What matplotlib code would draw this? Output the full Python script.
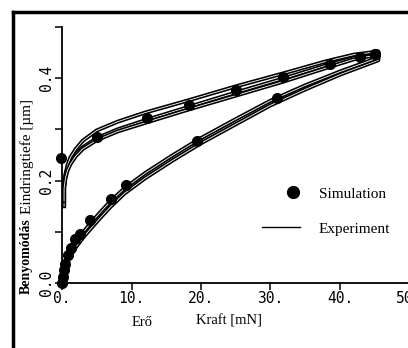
import matplotlib
matplotlib.use("Agg")
from matplotlib import pyplot as plt
from matplotlib.lines import Line2D
from matplotlib.legend_handler import HandlerLine2D
import matplotlib.patheffects as pe

# simulation dots (Kraft in mN, Eindringtiefe in um)
sim_load_x = [0.0, 0.1, 0.25, 0.5, 0.9, 1.3, 1.9, 2.6, 4.0, 7.1, 9.2, 19.4, 31.0, 45.0]
sim_load_y = [0.0, 0.012, 0.025, 0.038, 0.055, 0.068, 0.085, 0.095, 0.124, 0.164, 0.192, 0.277, 0.362, 0.447]
sim_unload_x = [45.0, 42.9, 38.6, 31.8, 25.0, 18.3, 12.2, 5.0, -0.2]
sim_unload_y = [0.447, 0.442, 0.427, 0.403, 0.377, 0.347, 0.323, 0.286, 0.245]

# experiment: three measured loops (load then unload)
exp_x = [0, 0.3, 0.7, 1.2, 2, 3, 4, 5.5, 7, 9, 12, 16, 20, 25, 30, 35, 40, 45.5,
         45.5, 42, 38, 32, 25, 18, 12, 8, 5, 3, 2, 1.2, 0.8, 0.5, 0.3, 0.3]
exp_y1 = [0, .025, .042, .057, .075, .093, .11, .133, .155, .18, .21, .245, .278, .315, .352, .382, .41, .437,
          .448, .44, .425, .4, .372, .343, .318, .3, .283, .265, .252, .237, .225, .21, .19, .155]
exp_y2 = [0, .022, .038, .052, .07, .088, .104, .127, .149, .175, .205, .24, .273, .31, .347, .378, .407, .435,
          .452, .446, .433, .41, .384, .356, .333, .315, .298, .278, .262, .245, .23, .212, .19, .15]
exp_y3 = [0, .028, .046, .061, .08, .098, .115, .138, .16, .185, .215, .25, .283, .32, .356, .386, .413, .44,
          .446, .437, .42, .394, .366, .338, .313, .296, .279, .262, .248, .232, .22, .205, .185, .16]

x_ticks = [0, 10, 20, 30, 40, 50]
x_ticklabels = ["0.", "10.", "20.", "30.", "40.", "50."]
y_ticks = [0.0, 0.1, 0.2, 0.3, 0.4, 0.5]
y_ticklabels = ["0.0", "", "0.2", "", "0.4", ""]


class RightMarker(HandlerLine2D):
    # legend dot sits near the right end of the handle, as in the scan
    def get_xdata(self, legend, xdescent, ydescent, width, height, fontsize):
        x = [-xdescent + 0.82 * width]
        return x, x


W, H = 408, 348
fig = plt.figure(figsize=(W / 100, H / 100), dpi=100)
ax = fig.add_axes([62 / W, 65 / H, 51 * 6.95 / W, 256 / H])

outline = [pe.Stroke(linewidth=2.9, foreground="black"), pe.Normal()]
for ys in [exp_y1, exp_y2, exp_y3]:
    ax.plot(exp_x, ys, color="white", lw=0.6, path_effects=outline, clip_on=False)

ax.plot(sim_load_x, sim_load_y, "o", color="black", ms=7, clip_on=False)
ax.plot(sim_unload_x, sim_unload_y, "o", color="black", ms=7, clip_on=False)

ax.set_xlim(0, 51)
ax.set_ylim(0, 0.5)
for s in ["top", "right"]:
    ax.spines[s].set_visible(False)
for s in ["left", "bottom"]:
    ax.spines[s].set_linewidth(1.3)

ax.set_xticks(x_ticks)
ax.set_xticklabels(x_ticklabels, family="DejaVu Sans Mono", fontsize=10.5)
ax.set_yticks(y_ticks)
ax.set_yticklabels(y_ticklabels, family="DejaVu Sans Mono", fontsize=10.5,
                   rotation=90, va="center")
ax.tick_params(length=5, width=1.1, pad=0.5)

serif = "Liberation Serif"
fig.text(229 / W, 1 - 321 / H, "Kraft [mN]", family=serif, fontsize=10.5,
         ha="center", va="center")
fig.text(142 / W, 1 - 323 / H, "Erő", family=serif, fontsize=10.5,
         ha="center", va="center")
fig.text(27 / W, 1 - 157 / H, "Eindringtiefe [µm]", family=serif, fontsize=11,
         rotation=90, ha="center", va="center")
fig.text(26 / W, 1 - 256 / H, "Benyomódás", family=serif, fontsize=10,
         weight="bold", rotation=90, ha="center", va="center")

sim_handle = Line2D([], [], marker="o", ls="none", color="black", ms=8.5)
exp_handle = Line2D([], [], color="black", lw=1)
ax.legend([sim_handle, exp_handle], ["Simulation", "Experiment"], frameon=False,
          prop={"family": serif, "size": 11}, loc="upper left",
          bbox_to_anchor=(262 / W, 1 - 187 / H), bbox_transform=fig.transFigure,
          borderpad=0, borderaxespad=0, handlelength=2.5, handletextpad=1.2,
          labelspacing=1.4, handler_map={sim_handle: RightMarker()})

# outer frame (left and top edges)
fig.add_artist(Line2D([13 / W, 13 / W], [0, 1 - 12 / H], color="black", lw=2.5))
fig.add_artist(Line2D([13 / W, 1], [1 - 12 / H, 1 - 12 / H], color="black", lw=2.5))

fig.savefig("out.png", dpi=100)
